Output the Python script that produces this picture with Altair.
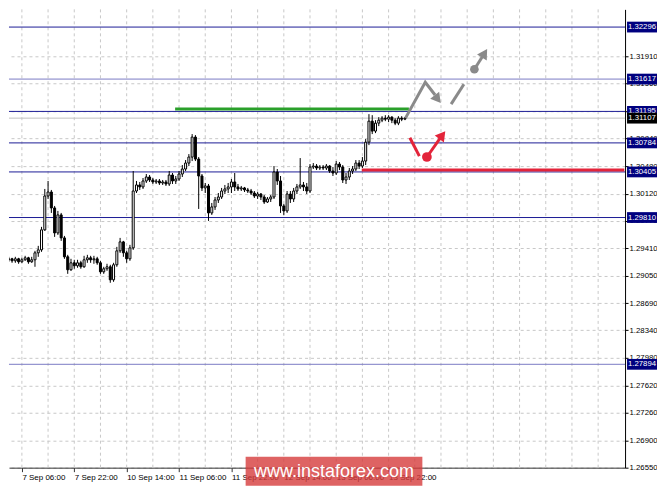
import altair as alt
import pandas as pd

# ---------------- data (H1 candles, bar index 0 = 7 Sep 02:00) ----------------
bar_index = list(range(122))
open_ = [1.29258, 1.29271, 1.29245, 1.29271, 1.29232, 1.29258, 1.29284, 1.29232, 1.29258, 1.29349,
         1.29388, 1.29649, 1.30091, 1.30143, 1.29935, 1.29609, 1.29844, 1.29544, 1.29297, 1.29128,
         1.29219, 1.29180, 1.29219, 1.29167, 1.29258, 1.29284, 1.29258, 1.29271, 1.29219, 1.29101,
         1.29141, 1.29167, 1.28997, 1.29193, 1.29375, 1.29492, 1.29349, 1.29271, 1.29414, 1.30156,
         1.30235, 1.30209, 1.30287, 1.30339, 1.30300, 1.30274, 1.30287, 1.30261, 1.30274, 1.30248,
         1.30365, 1.30287, 1.30313, 1.30378, 1.30443, 1.30521, 1.30599, 1.30860, 1.30573, 1.30352,
         1.30196, 1.30222, 1.29870, 1.29948, 1.30039, 1.30078, 1.30156, 1.30183, 1.30209, 1.30274,
         1.30209, 1.30183, 1.30196, 1.30170, 1.30156, 1.30130, 1.30091, 1.30117, 1.30078, 1.30013,
         1.30052, 1.30078, 1.30404, 1.30287, 1.29961, 1.29896, 1.30117, 1.30052, 1.30156, 1.30209,
         1.30235, 1.30209, 1.30156, 1.30469, 1.30482, 1.30456, 1.30469, 1.30456, 1.30482, 1.30417,
         1.30391, 1.30508, 1.30469, 1.30300, 1.30339, 1.30417, 1.30443, 1.30521, 1.30482, 1.30547,
         1.30794, 1.31068, 1.30938, 1.31042, 1.31081, 1.31107, 1.31094, 1.31120, 1.31081, 1.31042,
         1.31107, 1.31094]
high = [1.29297, 1.29284, 1.29297, 1.29284, 1.29284, 1.29310, 1.29297, 1.29297, 1.29375, 1.29440,
        1.29688, 1.30183, 1.30287, 1.30170, 1.29961, 1.29896, 1.29870, 1.29570, 1.29323, 1.29271,
        1.29258, 1.29258, 1.29245, 1.29310, 1.29323, 1.29310, 1.29310, 1.29297, 1.29245, 1.29167,
        1.29206, 1.29193, 1.29219, 1.29427, 1.29544, 1.29505, 1.29375, 1.29453, 1.30417, 1.30287,
        1.30274, 1.30326, 1.30378, 1.30365, 1.30326, 1.30313, 1.30313, 1.30300, 1.30300, 1.30417,
        1.30391, 1.30352, 1.30417, 1.30495, 1.30560, 1.30638, 1.30899, 1.30886, 1.30599, 1.30378,
        1.30261, 1.30248, 1.30000, 1.30078, 1.30130, 1.30196, 1.30235, 1.30261, 1.30313, 1.30391,
        1.30248, 1.30222, 1.30209, 1.30196, 1.30183, 1.30156, 1.30143, 1.30130, 1.30104, 1.30078,
        1.30104, 1.30482, 1.30443, 1.30352, 1.29987, 1.30156, 1.30156, 1.30196, 1.30248, 1.30586,
        1.30274, 1.30261, 1.30508, 1.30521, 1.30508, 1.30495, 1.30495, 1.30508, 1.30495, 1.30469,
        1.30547, 1.30534, 1.30495, 1.30391, 1.30456, 1.30482, 1.30560, 1.30560, 1.30599, 1.30834,
        1.31159, 1.31146, 1.31081, 1.31120, 1.31133, 1.31146, 1.31146, 1.31133, 1.31107, 1.31133,
        1.31133, 1.31120]
low = [1.29232, 1.29219, 1.29219, 1.29206, 1.29219, 1.29245, 1.29206, 1.29219, 1.29167, 1.29297,
       1.29362, 1.29635, 1.30052, 1.29870, 1.29557, 1.29583, 1.29505, 1.29271, 1.29075, 1.29114,
       1.29141, 1.29154, 1.29141, 1.29154, 1.29219, 1.29219, 1.29206, 1.29193, 1.29075, 1.29075,
       1.29114, 1.28958, 1.28971, 1.29167, 1.29349, 1.29297, 1.29219, 1.29245, 1.29388, 1.30130,
       1.30170, 1.30183, 1.30261, 1.30274, 1.30248, 1.30248, 1.30235, 1.30235, 1.30222, 1.30222,
       1.30248, 1.30248, 1.30287, 1.30339, 1.30417, 1.30482, 1.30547, 1.30547, 1.29922, 1.30156,
       1.30130, 1.29766, 1.29844, 1.29909, 1.30000, 1.30052, 1.30117, 1.30130, 1.30130, 1.30156,
       1.30156, 1.30156, 1.30143, 1.30130, 1.30104, 1.30065, 1.30052, 1.30039, 1.29987, 1.30000,
       1.30013, 1.30052, 1.30235, 1.29870, 1.29844, 1.29870, 1.30000, 1.30013, 1.30117, 1.30183,
       1.30156, 1.30117, 1.30130, 1.30443, 1.30430, 1.30430, 1.30430, 1.30430, 1.30391, 1.30352,
       1.30365, 1.30430, 1.30261, 1.30248, 1.30300, 1.30378, 1.30417, 1.30443, 1.30456, 1.30495,
       1.30755, 1.30899, 1.30912, 1.31003, 1.31055, 1.31068, 1.31055, 1.31042, 1.31016, 1.31016,
       1.31068, 1.31081]
close = [1.29271, 1.29245, 1.29271, 1.29232, 1.29258, 1.29284, 1.29232, 1.29258, 1.29349, 1.29388,
         1.29649, 1.30091, 1.30143, 1.29935, 1.29609, 1.29844, 1.29544, 1.29297, 1.29128, 1.29219,
         1.29180, 1.29219, 1.29167, 1.29258, 1.29284, 1.29258, 1.29271, 1.29219, 1.29101, 1.29141,
         1.29167, 1.28997, 1.29193, 1.29375, 1.29492, 1.29349, 1.29271, 1.29414, 1.30156, 1.30235,
         1.30209, 1.30287, 1.30339, 1.30300, 1.30274, 1.30287, 1.30261, 1.30274, 1.30248, 1.30365,
         1.30287, 1.30313, 1.30378, 1.30443, 1.30521, 1.30599, 1.30860, 1.30573, 1.30352, 1.30196,
         1.30222, 1.29870, 1.29948, 1.30039, 1.30078, 1.30156, 1.30183, 1.30209, 1.30274, 1.30209,
         1.30183, 1.30196, 1.30170, 1.30156, 1.30130, 1.30091, 1.30117, 1.30078, 1.30013, 1.30052,
         1.30078, 1.30404, 1.30287, 1.29961, 1.29896, 1.30117, 1.30052, 1.30156, 1.30209, 1.30235,
         1.30209, 1.30156, 1.30469, 1.30482, 1.30456, 1.30469, 1.30456, 1.30482, 1.30417, 1.30391,
         1.30508, 1.30469, 1.30300, 1.30339, 1.30417, 1.30443, 1.30521, 1.30482, 1.30547, 1.30794,
         1.31068, 1.30938, 1.31042, 1.31081, 1.31107, 1.31094, 1.31120, 1.31081, 1.31042, 1.31107,
         1.31094, 1.31107]

x_tick_bars = [4, 20, 36, 52, 68, 84, 100, 116]
x_tick_labels = ["7 Sep 06:00", "7 Sep 22:00", "10 Sep 14:00", "11 Sep 06:00",
                 "11 Sep 22:00", "12 Sep 14:00", "13 Sep 06:00", "13 Sep 22:00"]
x_grid_bars = list(range(4, 187, 8))
y_ticks = [1.31910, 1.31560, 1.31200, 1.30840, 1.30480, 1.30120, 1.29770, 1.29410,
           1.29050, 1.28690, 1.28340, 1.27980, 1.27620, 1.27260, 1.26900, 1.26550]

dark_levels = [1.32296, 1.31195, 1.30784, 1.30405, 1.29810]
light_levels = [1.31617, 1.27894]
last_price = [1.31107]

resistance_bars = [50.8, 122.2]
resistance_price = [1.31225]
support_bars = [107.8, 188.0]
support_price = [1.30430]

gray_path_bars = [121.2, 127.2, 130.2]
gray_path_prices = [1.31111, 1.31576, 1.31409]
gray_head1 = (131.0, 1.31355)
gray_dash_bars = [135.1, 139.0]
gray_dash_prices = [1.31290, 1.31550]
gray_dot = (142.2, 1.31745)
gray_head2 = (145.3, 1.31954)

red_seg_bars = [122.5, 125.4]
red_seg_prices = [1.30851, 1.30612]
red_dot = (127.7, 1.30600)
red_head = (132.4, 1.30886)

watermark = "www.instaforex.com"

# ---------------- styling ----------------
W, H = 617, 459
X_DOM = [1.59, 1.59 + 617 / 3.3333]
Y_DOM = [1.26545, 1.32527]
FONT = "Liberation Sans"
NAVY = "#1c1c96"
BOXC = "#00007f"
LIGHT = "#7b7bc4"
GRIDC = "#c8c8c8"
GRAY = "#8a8a8a"
RED = "#e3243a"
GREEN = "#2aa02a"
BOX_X = 634

label_expr = "[" + ",".join("'%s'" % s for s in x_tick_labels) + "][round((datum.value - 4) / 16)]"

xs = alt.Scale(domain=X_DOM, nice=False, zero=False)
ys = alt.Scale(domain=Y_DOM, nice=False, zero=False)
x_axis = alt.Axis(values=x_tick_bars, labelExpr=label_expr, labelAlign="left", labelBaseline="top",
                  labelPadding=2, tickSize=4, grid=False, title=None, labelFont=FONT,
                  labelFontSize=8, labelColor="black", domainColor="#333333", tickColor="#333333",
                  labelFlush=False, labelOverlap=False)
y_axis = alt.Axis(orient="right", values=y_ticks, format=".5f", tickSize=3, labelPadding=1,
                  grid=True, gridDash=[3, 3], gridColor=GRIDC, title=None, labelFont=FONT,
                  labelFontSize=7.8, labelColor="black", domainColor="black", tickColor="black",
                  labelOverlap=False, labelFlush=False)


def X(f):
    return alt.X(f, type="quantitative", scale=xs, axis=x_axis)


def Y(f):
    return alt.Y(f, type="quantitative", scale=ys, axis=y_axis)


candles = pd.DataFrame({"bar": bar_index, "open": open_, "high": high, "low": low, "close": close})
candles["up"] = candles["close"] >= candles["open"]

vgrid = alt.Chart(pd.DataFrame({"bar": x_grid_bars})).mark_rule(
    color=GRIDC, strokeDash=[3, 3], strokeWidth=1).encode(x=X("bar"))

dark = alt.Chart(pd.DataFrame({"price": dark_levels})).mark_rule(
    color=NAVY, strokeWidth=1).encode(y=Y("price"))
light = alt.Chart(pd.DataFrame({"price": light_levels})).mark_rule(
    color=LIGHT, strokeWidth=1).encode(y=Y("price"))
lastl = alt.Chart(pd.DataFrame({"price": last_price})).mark_rule(
    color="#c0c0c0", strokeWidth=1).encode(y=Y("price"))

res = alt.Chart(pd.DataFrame({"b1": [resistance_bars[0]], "b2": [resistance_bars[1]],
                              "price": resistance_price})).mark_rule(
    color=GREEN, strokeWidth=3, clip=True).encode(x=X("b1"), x2="b2", y=Y("price"))
sup = alt.Chart(pd.DataFrame({"b1": [support_bars[0]], "b2": [support_bars[1]],
                              "price": support_price})).mark_rule(
    color=RED, strokeWidth=3, clip=True).encode(x=X("b1"), x2="b2", y=Y("price"))

cbase = alt.Chart(candles)
wicks = cbase.mark_rule(color="black", strokeWidth=1, clip=True).encode(
    x=X("bar"), y=Y("low"), y2="high")
bodies = cbase.mark_bar(size=2, stroke="black", strokeWidth=1, clip=True).encode(
    x=X("bar"), y=Y("open"), y2="close",
    fill=alt.condition("datum.up", alt.value("white"), alt.value("black")))

gpath = alt.Chart(pd.DataFrame({"bar": gray_path_bars, "price": gray_path_prices,
                                "k": range(3)})).mark_line(
    color=GRAY, strokeWidth=3).encode(x=X("bar"), y=Y("price"), order="k")
gdash = alt.Chart(pd.DataFrame({"bar": gray_dash_bars, "price": gray_dash_prices})).mark_line(
    color=GRAY, strokeWidth=3).encode(x=X("bar"), y=Y("price"))
garrow = alt.Chart(pd.DataFrame({"bar": [gray_dot[0], gray_head2[0]],
                                 "price": [gray_dot[1], gray_head2[1]]})).mark_line(
    color=GRAY, strokeWidth=3).encode(x=X("bar"), y=Y("price"))
gdot = alt.Chart(pd.DataFrame({"bar": [gray_dot[0]], "price": [gray_dot[1]]})).mark_point(
    shape="circle", filled=True, color=GRAY, opacity=1, size=75).encode(x=X("bar"), y=Y("price"))
ghead1 = alt.Chart(pd.DataFrame({"bar": [gray_head1[0]], "price": [gray_head1[1]]})).mark_point(
    shape="triangle-up", filled=True, color=GRAY, opacity=1, size=130, angle=142).encode(
    x=X("bar"), y=Y("price"))
ghead2 = alt.Chart(pd.DataFrame({"bar": [gray_head2[0]], "price": [gray_head2[1]]})).mark_point(
    shape="triangle-up", filled=True, color=GRAY, opacity=1, size=130, angle=32).encode(
    x=X("bar"), y=Y("price"))

rseg = alt.Chart(pd.DataFrame({"bar": red_seg_bars, "price": red_seg_prices})).mark_line(
    color=RED, strokeWidth=3).encode(x=X("bar"), y=Y("price"))
rarrow = alt.Chart(pd.DataFrame({"bar": [red_dot[0], red_head[0]],
                                 "price": [red_dot[1], red_head[1]]})).mark_line(
    color=RED, strokeWidth=3).encode(x=X("bar"), y=Y("price"))
rdot = alt.Chart(pd.DataFrame({"bar": [red_dot[0]], "price": [red_dot[1]]})).mark_point(
    shape="circle", filled=True, color=RED, opacity=1, size=95).encode(x=X("bar"), y=Y("price"))
rhead = alt.Chart(pd.DataFrame({"bar": [red_head[0]], "price": [red_head[1]]})).mark_point(
    shape="triangle-up", filled=True, color=RED, opacity=1, size=130, angle=37).encode(
    x=X("bar"), y=Y("price"))

BOX = "M-1,-0.36L1,-0.36L1,0.36L-1,0.36Z"
BOX_SIZE = 900
box_df = pd.DataFrame({"price": dark_levels + light_levels})
boxes = alt.Chart(box_df).mark_point(shape=BOX, filled=True, color=BOXC, opacity=1, size=BOX_SIZE,
                                     strokeWidth=0).encode(y=Y("price"), x=alt.value(BOX_X))
box_txt = alt.Chart(box_df).mark_text(color="white", font=FONT, fontSize=7.8, align="center",
                                      baseline="middle").encode(
    y=Y("price"), x=alt.value(BOX_X), text=alt.Text("price:Q", format=".5f"))
last_df = pd.DataFrame({"price": last_price})
lbox = alt.Chart(last_df).mark_point(shape=BOX, filled=True, color="black", opacity=1,
                                     size=BOX_SIZE, strokeWidth=0).encode(
    y=Y("price"), x=alt.value(BOX_X))
ltxt = alt.Chart(last_df).mark_text(color="white", font=FONT, fontSize=7.8, align="center",
                                    baseline="middle").encode(
    y=Y("price"), x=alt.value(BOX_X), text=alt.Text("price:Q", format=".5f"))

wm_rect = alt.Chart(pd.DataFrame({"t": [watermark]})).mark_rect(
    color="#d63c3c", opacity=0.8).encode(
    x=alt.value(237), x2=alt.value(414), y=alt.value(448), y2=alt.value(477))
wm_text = alt.Chart(pd.DataFrame({"t": [watermark]})).mark_text(
    color="white", font=FONT, fontSize=18, align="center", baseline="middle").encode(
    x=alt.value(325.5), y=alt.value(463), text="t:N")

chart = alt.layer(
    vgrid, light, dark, lastl, res, sup, wicks, bodies,
    gpath, ghead1, gdash, garrow, gdot, ghead2,
    rseg, rarrow, rdot, rhead,
    boxes, box_txt, lbox, ltxt, wm_rect, wm_text
).properties(
    width=W, height=H,
    padding={"left": 0, "top": 0, "right": -1, "bottom": 0}
).configure_view(stroke=None)

chart.save("out.html", embed_options={"renderer": "svg", "actions": False})
